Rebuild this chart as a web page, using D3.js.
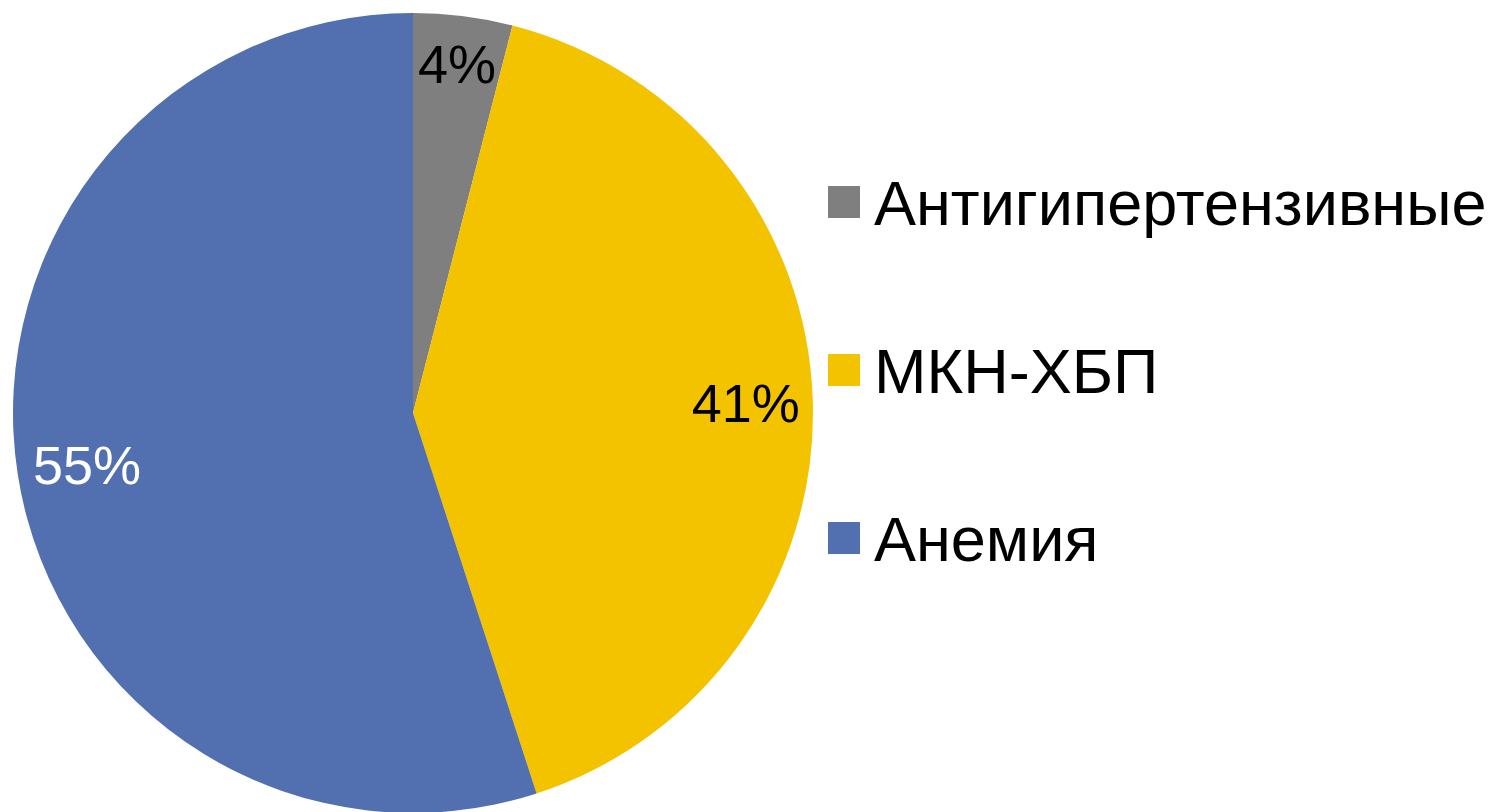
<!DOCTYPE html>
<html>
<head>
<meta charset="utf-8">
<script src="https://cdn.jsdelivr.net/npm/d3@7"></script>
<style>
    html, body { margin: 0; padding: 0; background: #fff; }
    #chart { width: 1501px; height: 812px; overflow: hidden; }
    svg { display: block; font-family: "Liberation Sans", Arial, sans-serif; }
</style>
</head>
<body>
<div id="chart"></div>
<script>
// chart data
const categories = ["Антигипертензивные", "МКН-ХБП", "Анемия"];
const shares = [4, 41, 55];
const colors = ["#7f7f7f", "#f3c300", "#526fb0"];
const labelColors = ["#000", "#000", "#fff"];

let width = 1501, height = 812;

let svg = d3.select("#chart").append("svg")
    .attr("width", width)
    .attr("height", height);

// pie setup
let cx = 413, cy = 413, radius = 400;

let pie = d3.pie().sort(null).value(d => d.value);
let arc = d3.arc().innerRadius(0).outerRadius(radius);

let data = categories.map((c, i) => ({key: c, value: shares[i], color: colors[i], labelColor: labelColors[i]}));

let pieGroup = svg.append("g")
    .attr("class", "pie-chart")
    .attr("transform", `translate(${cx},${cy})`);

pieGroup.selectAll(".arc")
    .data(pie(data))
    .enter()
    .append("path")
    .attr("class", "arc")
    .attr("d", arc)
    .attr("fill", d => d.data.color);

// labels placed "inside end" like the office chart
let labelSize = 54, pad = 11;
pieGroup.selectAll(".pct")
    .data(pie(data))
    .enter()
    .append("text")
    .attr("class", "pct")
    .attr("font-size", labelSize)
    .attr("fill", d => d.data.labelColor)
    .attr("text-anchor", "middle")
    .text(d => d.data.value + "%")
    .each(function(d) {
        let w = this.getComputedTextLength();
        let h = labelSize * 1.15;
        let a = (d.startAngle + d.endAngle) / 2;
        let sx = Math.sin(a), sy = -Math.cos(a);
        let lo = 0, hi = radius;
        for (let k = 0; k < 40; k++) {
            let m = (lo + hi) / 2;
            let px = m * sx + Math.sign(sx) * w / 2;
            let py = m * sy + Math.sign(sy) * h / 2;
            if (Math.hypot(px, py) > radius - pad) hi = m; else lo = m;
        }
        d3.select(this)
            .attr("x", lo * sx)
            .attr("y", lo * sy + labelSize * 0.36);
    });

// legend
let legendX = 828, legendY = 202, legendStep = 168, box = 32;
let legend = svg.append("g").attr("class", "legend");

let items = legend.selectAll(".item")
    .data(data)
    .enter()
    .append("g")
    .attr("class", "item")
    .attr("transform", (d, i) => `translate(${legendX},${legendY + i * legendStep})`);

items.append("rect")
    .attr("x", 0)
    .attr("y", -box / 2)
    .attr("width", box)
    .attr("height", box)
    .attr("fill", d => d.color);

items.append("text")
    .attr("x", 46)
    .attr("y", 23)
    .attr("font-size", 63)
    .attr("fill", "#000")
    .text(d => d.key);
</script>
</body>
</html>
